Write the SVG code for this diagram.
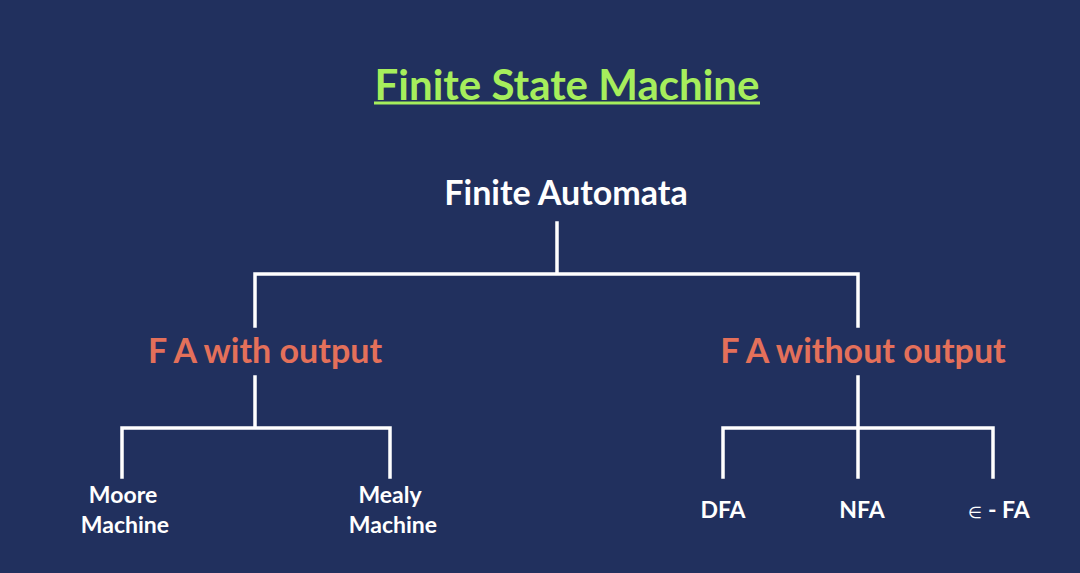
<svg xmlns="http://www.w3.org/2000/svg" width="1080" height="573" viewBox="0 0 1080 573">
<style>
text{font-family:Lato,"Liberation Sans",sans-serif;text-anchor:middle;font-weight:bold}
.w{fill:#ffffff}
.o{fill:#e4705a}
.t{fill:#a6ee5c}
.c{stroke:#ffffff;stroke-width:3.5;fill:none;stroke-linecap:square}
</style>
<rect width="1080" height="573" fill="#21305e"/>
<g id="title">
<text class="t" x="567" y="100" font-size="42" font-weight="normal">Finite State Machine</text>
<rect x="374" y="101.5" width="386" height="3" fill="#a6ee5c"/>
</g>
<g id="connectors">
<path class="c" d="M557 223V274M255 326V274H858V326"/>
<path class="c" d="M255 377V428M122 477V428H390V477"/>
<path class="c" d="M858 377V428M723 477V428H993V477M858 428V477"/>
</g>
<g id="fa"><text class="w" x="566" y="205" font-size="34">Finite Automata</text></g>
<g id="fa-with"><text class="o" x="265" y="363" font-size="34">F A with output</text></g>
<g id="fa-without"><text class="o" x="863" y="363" font-size="34">F A without output</text></g>
<g id="moore"><text class="w" x="123" y="503" font-size="23">Moore</text><text class="w" x="125" y="533" font-size="23">Machine</text></g>
<g id="mealy"><text class="w" x="390" y="503" font-size="23">Mealy</text><text class="w" x="393" y="533" font-size="23">Machine</text></g>
<g id="dfa"><text class="w" x="723" y="518" font-size="23">DFA</text></g>
<g id="nfa"><text class="w" x="862" y="518" font-size="23">NFA</text></g>
<g id="efa"><text class="w" x="999" y="518" font-size="23"><tspan font-size="16" font-weight="normal">∈</tspan> - FA</text></g>
</svg>
